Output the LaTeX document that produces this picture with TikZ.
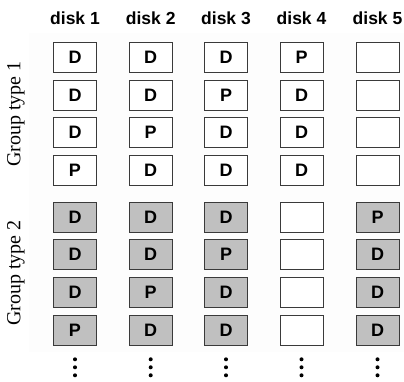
\documentclass[tikz,border=0pt]{standalone}
\usepackage{fontspec}
\setmainfont{Liberation Serif}
\newfontfamily\arialf{Liberation Sans}
\definecolor{boxgray}{HTML}{C0C0C0}
\definecolor{boxline}{HTML}{3A3A3A}
\definecolor{bgfaint}{HTML}{FDFDFD}
\begin{document}
\begin{tikzpicture}[x=1pt,y=-1pt,
  cell/.style={draw=boxline,line width=1pt,minimum width=43pt,minimum height=30pt,inner sep=0pt,font=\arialf\bfseries\fontsize{18}{20}\selectfont},
  cellg/.style={cell,fill=boxgray},
  cellw/.style={cell,fill=white},
  header/.style={font=\arialf\bfseries\fontsize{17.5}{20}\selectfont,inner sep=0pt},
  grouplabel/.style={rotate=90,font=\fontsize{20}{22}\selectfont,inner sep=0pt},
  vdot/.style={circle,fill=black,minimum size=4pt,inner sep=0pt}]
\useasboundingbox (0,0) rectangle (404,381);
\fill[bgfaint] (29,33) rectangle (404,194);
\fill[bgfaint] (29,194) rectangle (404,352);
% headers
\foreach \i/\x in {1/75,2/150.7,3/226,4/301.5,5/377.5}
  \node[header] (h\i) at (\x,18) {disk \i};
% group labels
\node[grouplabel] (g1) at (16,114) {Group type 1};
\node[grouplabel] (g2) at (16,273) {Group type 2};
% group 1
\foreach \r/\y/\a/\b/\c/\d in {1/57/D/D/D/P,2/95/D/D/P/D,3/132.7/D/P/D/D,4/170.7/P/D/D/D}{
  \node[cellw] (a\r1) at (75,\y) {\a};
  \node[cellw] (a\r2) at (150.7,\y) {\b};
  \node[cellw] (a\r3) at (226,\y) {\c};
  \node[cellw] (a\r4) at (301.5,\y) {\d};
  \node[cellw] (a\r5) at (377.5,\y) {};
}
% group 2
\foreach \r/\y/\a/\b/\c/\e in {1/217/D/D/D/P,2/254.7/D/D/P/D,3/292.3/D/P/D/D,4/330/P/D/D/D}{
  \node[cellg] (b\r1) at (75,\y) {\a};
  \node[cellg] (b\r2) at (150.7,\y) {\b};
  \node[cellg] (b\r3) at (226,\y) {\c};
  \node[cellw] (b\r4) at (301.5,\y) {};
  \node[cellg] (b\r5) at (377.5,\y) {\e};
}
% continuation dots
\foreach \i/\x in {1/75,2/150.7,3/226,4/301.5,5/377.5}{
  \node[vdot] (d\i a) at (\x,359.3) {};
  \node[vdot] (d\i b) at (\x,367.3) {};
  \node[vdot] (d\i c) at (\x,375.3) {};
}
\end{tikzpicture}
\end{document}
